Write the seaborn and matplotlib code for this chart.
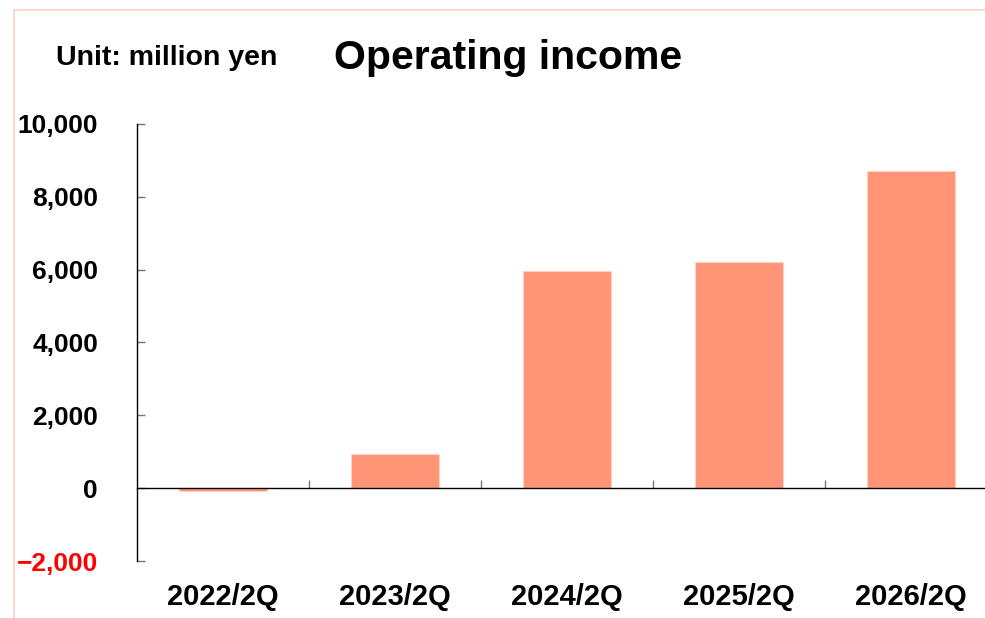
import numpy as np
import pandas as pd
import matplotlib.pyplot as plt
import seaborn as sns
from matplotlib.patches import Rectangle

sns.set_style("white")
plt.rcParams['font.family'] = ['Liberation Sans', 'DejaVu Sans']
plt.rcParams['text.color'] = 'black'
plt.rcParams['xtick.color'] = 'black'
plt.rcParams['ytick.color'] = 'black'

# data
periods = ["2022/2Q", "2023/2Q", "2024/2Q", "2025/2Q", "2026/2Q"]
op_income = [-70, 950, 5950, 6200, 8700]
yticks = [-2000, 0, 2000, 4000, 6000, 8000, 10000]

df = pd.DataFrame({"period": periods, "income": op_income})

fig = plt.figure(figsize=(9.85, 6.18), dpi=100)
ax = fig.add_axes([0.139, 0.0922, 0.873, 0.7072])

sns.barplot(data=df, x="period", y="income", color="#ff9477", width=0.51,
            saturation=1, edgecolor="#ffd0c4", linewidth=0.8, ax=ax)

ax.set_ylim(-2000, 10000)
ax.set_xlim(-0.5, 4.5)
ax.set_xlabel("")
ax.set_ylabel("")

# spines
ax.spines['top'].set_visible(False)
ax.spines['right'].set_visible(False)
ax.spines['bottom'].set_position(('data', 0))
for s in ['left', 'bottom']:
    ax.spines[s].set_color('black')
    ax.spines[s].set_linewidth(1.0)

# y ticks
ax.set_yticks(yticks)
ax.set_yticklabels([f"{v:,}".replace("-", "\u2212") for v in yticks])
ax.tick_params(axis='y', left=True, direction='in', length=6, width=1,
               color='#777777', labelcolor='black', pad=28, labelsize=19)
for lbl in ax.get_yticklabels():
    lbl.set_fontweight('bold')
    if lbl.get_text().startswith("\u2212"):
        lbl.set_color('red')

# x ticks: labels at bottom, small boundary ticks above zero line
ax.set_xticks(range(len(periods)))
ax.set_xticklabels(periods)
ax.tick_params(axis='x', which='major', bottom=True, length=0, pad=68,
               labelsize=21, labelcolor='black')
for lbl in ax.get_xticklabels():
    lbl.set_fontweight('bold')
ax.set_xticks([0.5, 1.5, 2.5, 3.5], minor=True)
ax.tick_params(axis='x', which='minor', bottom=True, direction='in',
               length=6, width=1, color='#777777')

# titles
fig.text(0.169, 0.906, "Unit: million yen", ha='center', va='center',
         fontsize=20.5, fontweight='bold')
fig.text(0.516, 0.906, "Operating income", ha='center', va='center',
         fontsize=29.5, fontweight='bold')

# frame
fig.patches.append(Rectangle((14 / 985, -0.1), 1.2, 1.1 - 10 / 618,
                             transform=fig.transFigure, fill=False,
                             edgecolor='#ffcfc0', linewidth=1.2))

fig.savefig("out.png", dpi=100)
